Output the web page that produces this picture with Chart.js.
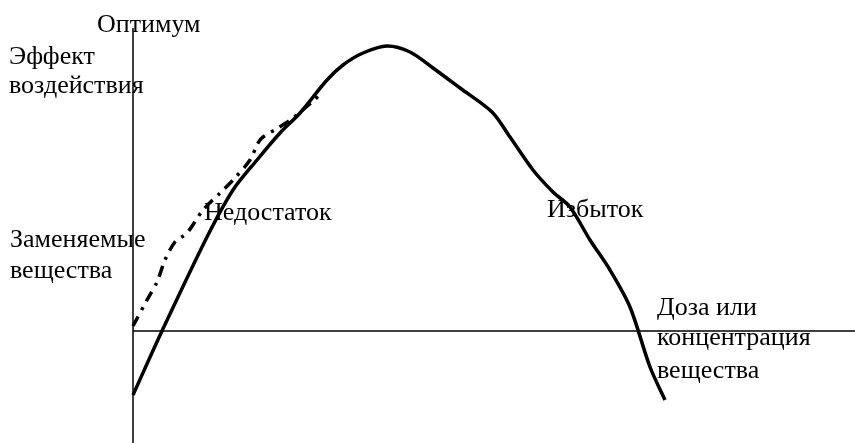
<!DOCTYPE html>
<html>
<head>
<meta charset="utf-8">
<script src="https://cdn.jsdelivr.net/npm/chart.js@4"></script>
<style>
  html, body { margin: 0; padding: 0; background: #fff; }
  #wrap { width: 855px; height: 443px; }
</style>
</head>
<body>
<div id="wrap"><canvas id="doseChart"></canvas></div>
<script>
// dose (x) and effect (y), measured from where the two axes cross
const doseSolid = [0, 29, 74, 100, 124, 147, 167, 194, 210, 230, 254, 277, 300, 327, 359, 377, 400, 420, 437, 457, 477, 497, 517, 532];
const effectSolid = [-64, 0, 94, 141, 171, 198, 218, 251, 266, 278, 285, 279, 263, 243, 219, 194, 161, 139, 124, 91, 61, 24, -36, -69];

const doseReplaced = [0, 14, 24, 32, 42, 54, 70, 87, 100, 117, 125, 130, 145, 160, 179, 190];
const effectReplaced = [5, 31, 49, 71, 89, 98, 121, 138, 151, 171, 188, 194, 203, 213, 229, 239];

const axisX = [0, 722];
const axisY = [-112, 303];

const labelTexts = ['Оптимум', 'Эффект', 'воздействия', 'Недостаток', 'Избыток',
    'Заменяемые', 'вещества', 'Доза или', 'концентрация', 'вещества'];
const labelX = [-36, -124, -124, 71, 414, -123, -123, 524, 524, 524];
const labelY = [299, 267, 238, 111, 114, 84, 53, 16, -14, -47];

function toPoints(xs, ys) {
    return xs.map(function(x, i) { return { x: x, y: ys[i] }; });
}

const textPlugin = {
    id: 'textLabels',
    afterDatasetsDraw: function(chart) {
        const c = chart.ctx;
        const sx = chart.scales.x;
        const sy = chart.scales.y;
        c.save();
        c.fillStyle = '#000';
        c.font = '26px "Liberation Serif", "Times New Roman", serif';
        c.textAlign = 'left';
        c.textBaseline = 'alphabetic';
        labelTexts.forEach(function(t, i) {
            c.fillText(t, sx.getPixelForValue(labelX[i]), sy.getPixelForValue(labelY[i]));
        });
        c.restore();
    }
};

const ctx = document.getElementById('doseChart').getContext('2d');

new Chart(ctx, {
    type: 'scatter',
    data: {
        datasets: [
            {
                label: 'axisY',
                data: toPoints([0, 0], axisY),
                showLine: true,
                borderColor: '#000',
                borderWidth: 1.5,
                pointRadius: 0
            },
            {
                label: 'axisX',
                data: toPoints(axisX, [0, 0]),
                showLine: true,
                borderColor: '#000',
                borderWidth: 1.5,
                pointRadius: 0
            },
            {
                label: 'Заменяемые вещества',
                data: toPoints(doseReplaced, effectReplaced),
                showLine: true,
                borderColor: '#000',
                borderWidth: 3.5,
                borderDash: [11, 7, 3, 7],
                tension: 0.3,
                pointRadius: 0
            },
            {
                label: 'Эффект',
                data: toPoints(doseSolid, effectSolid),
                showLine: true,
                borderColor: '#000',
                borderWidth: 3.5,
                tension: 0.3,
                pointRadius: 0
            }
        ]
    },
    options: {
        responsive: true,
        maintainAspectRatio: false,
        animation: false,
        layout: { padding: 0 },
        plugins: {
            legend: { display: false },
            tooltip: { enabled: false }
        },
        scales: {
            x: { type: 'linear', min: -133, max: 722, display: false },
            y: { type: 'linear', min: -112, max: 331, display: false }
        }
    },
    plugins: [textPlugin]
});
</script>
</body>
</html>
